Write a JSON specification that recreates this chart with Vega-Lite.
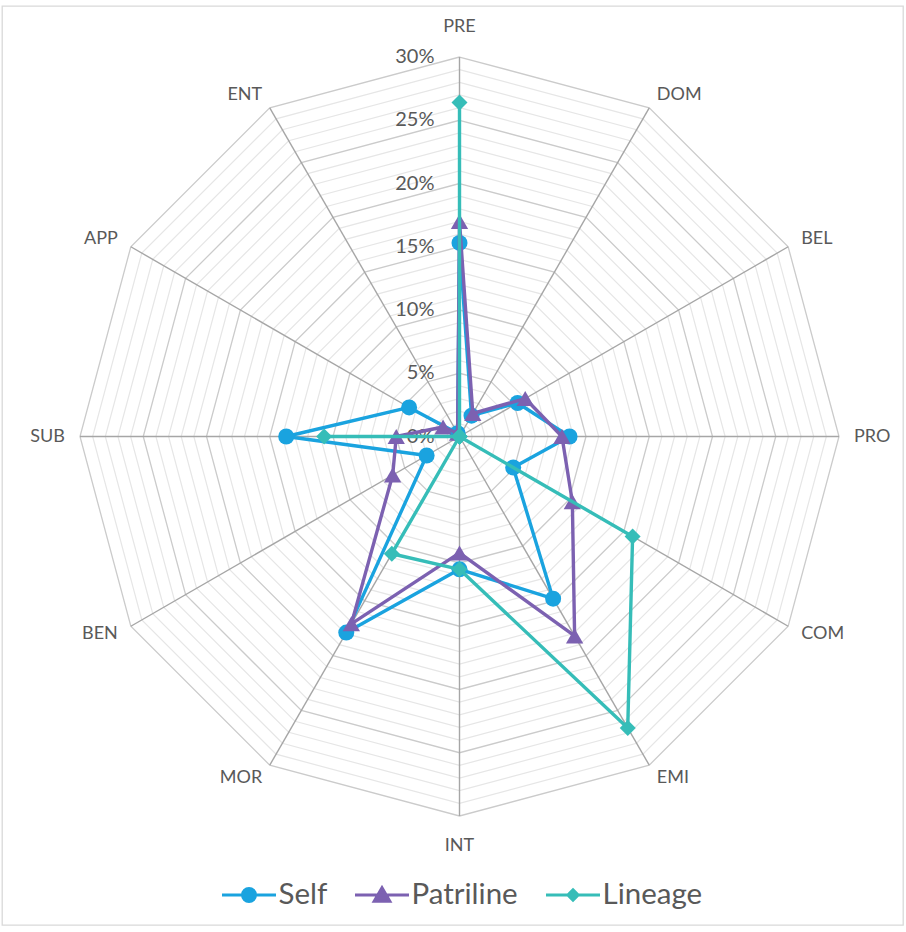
{
  "$schema": "https://vega.github.io/schema/vega-lite/v6.json",
  "width": 901,
  "height": 919,
  "autosize": {"type": "none"},
  "padding": {"left": 2, "top": 6, "right": 3, "bottom": 7},
  "background": "white",
  "config": {
    "view": {"stroke": "#D9D9D9", "strokeWidth": 1.3},
    "legend": {
      "orient": "none",
      "direction": "horizontal",
      "legendX": 218.5,
      "legendY": 860.5,
      "padding": 0,
      "labelFont": "Lato",
      "labelFontSize": 29.5,
      "labelColor": "#595959",
      "labelOffset": 1,
      "symbolSize": 2916,
      "symbolStrokeWidth": 3,
      "symbolOpacity": 1,
      "columnPadding": 21
    }
  },
  "datasets": {
    "vals": [
      {"series": "Self", "axis": "PRE", "idx": 0, "value": 15.3},
      {"series": "Self", "axis": "DOM", "idx": 1, "value": 1.9},
      {"series": "Self", "axis": "BEL", "idx": 2, "value": 5.3},
      {"series": "Self", "axis": "PRO", "idx": 3, "value": 8.7},
      {"series": "Self", "axis": "COM", "idx": 4, "value": 4.9},
      {"series": "Self", "axis": "EMI", "idx": 5, "value": 14.8},
      {"series": "Self", "axis": "INT", "idx": 6, "value": 10.5},
      {"series": "Self", "axis": "MOR", "idx": 7, "value": 17.9},
      {"series": "Self", "axis": "BEN", "idx": 8, "value": 3.0},
      {"series": "Self", "axis": "SUB", "idx": 9, "value": 13.7},
      {"series": "Self", "axis": "APP", "idx": 10, "value": 4.6},
      {"series": "Self", "axis": "ENT", "idx": 11, "value": 0.3},
      {"series": "Patriline", "axis": "PRE", "idx": 0, "value": 17.0},
      {"series": "Patriline", "axis": "DOM", "idx": 1, "value": 2.1},
      {"series": "Patriline", "axis": "BEL", "idx": 2, "value": 6.0},
      {"series": "Patriline", "axis": "PRO", "idx": 3, "value": 8.1},
      {"series": "Patriline", "axis": "COM", "idx": 4, "value": 10.3},
      {"series": "Patriline", "axis": "EMI", "idx": 5, "value": 18.2},
      {"series": "Patriline", "axis": "INT", "idx": 6, "value": 9.2},
      {"series": "Patriline", "axis": "MOR", "idx": 7, "value": 17.1},
      {"series": "Patriline", "axis": "BEN", "idx": 8, "value": 6.1},
      {"series": "Patriline", "axis": "SUB", "idx": 9, "value": 5.0},
      {"series": "Patriline", "axis": "APP", "idx": 10, "value": 1.5},
      {"series": "Patriline", "axis": "ENT", "idx": 11, "value": 0.3},
      {"series": "Lineage", "axis": "PRE", "idx": 0, "value": 26.4},
      {"series": "Lineage", "axis": "DOM", "idx": 1, "value": 0},
      {"series": "Lineage", "axis": "BEL", "idx": 2, "value": 0},
      {"series": "Lineage", "axis": "PRO", "idx": 3, "value": 0},
      {"series": "Lineage", "axis": "COM", "idx": 4, "value": 15.8},
      {"series": "Lineage", "axis": "EMI", "idx": 5, "value": 26.6},
      {"series": "Lineage", "axis": "INT", "idx": 6, "value": 10.5},
      {"series": "Lineage", "axis": "MOR", "idx": 7, "value": 10.7},
      {"series": "Lineage", "axis": "BEN", "idx": 8, "value": 0},
      {"series": "Lineage", "axis": "SUB", "idx": 9, "value": 10.7},
      {"series": "Lineage", "axis": "APP", "idx": 10, "value": 0},
      {"series": "Lineage", "axis": "ENT", "idx": 11, "value": 0}
    ],
    "axes": [
      {"axis": "PRE", "idx": 0}, {"axis": "DOM", "idx": 1}, {"axis": "BEL", "idx": 2},
      {"axis": "PRO", "idx": 3}, {"axis": "COM", "idx": 4}, {"axis": "EMI", "idx": 5},
      {"axis": "INT", "idx": 6}, {"axis": "MOR", "idx": 7}, {"axis": "BEN", "idx": 8},
      {"axis": "SUB", "idx": 9}, {"axis": "APP", "idx": 10}, {"axis": "ENT", "idx": 11}
    ],
    "levels": [
      {"level": 1, "k": [0,1,2,3,4,5,6,7,8,9,10,11]},
      {"level": 2, "k": [0,1,2,3,4,5,6,7,8,9,10,11]},
      {"level": 3, "k": [0,1,2,3,4,5,6,7,8,9,10,11]},
      {"level": 4, "k": [0,1,2,3,4,5,6,7,8,9,10,11]},
      {"level": 5, "k": [0,1,2,3,4,5,6,7,8,9,10,11]},
      {"level": 6, "k": [0,1,2,3,4,5,6,7,8,9,10,11]},
      {"level": 7, "k": [0,1,2,3,4,5,6,7,8,9,10,11]},
      {"level": 8, "k": [0,1,2,3,4,5,6,7,8,9,10,11]},
      {"level": 9, "k": [0,1,2,3,4,5,6,7,8,9,10,11]},
      {"level": 10, "k": [0,1,2,3,4,5,6,7,8,9,10,11]},
      {"level": 11, "k": [0,1,2,3,4,5,6,7,8,9,10,11]},
      {"level": 12, "k": [0,1,2,3,4,5,6,7,8,9,10,11]},
      {"level": 13, "k": [0,1,2,3,4,5,6,7,8,9,10,11]},
      {"level": 14, "k": [0,1,2,3,4,5,6,7,8,9,10,11]},
      {"level": 15, "k": [0,1,2,3,4,5,6,7,8,9,10,11]},
      {"level": 16, "k": [0,1,2,3,4,5,6,7,8,9,10,11]},
      {"level": 17, "k": [0,1,2,3,4,5,6,7,8,9,10,11]},
      {"level": 18, "k": [0,1,2,3,4,5,6,7,8,9,10,11]},
      {"level": 19, "k": [0,1,2,3,4,5,6,7,8,9,10,11]},
      {"level": 20, "k": [0,1,2,3,4,5,6,7,8,9,10,11]},
      {"level": 21, "k": [0,1,2,3,4,5,6,7,8,9,10,11]},
      {"level": 22, "k": [0,1,2,3,4,5,6,7,8,9,10,11]},
      {"level": 23, "k": [0,1,2,3,4,5,6,7,8,9,10,11]},
      {"level": 24, "k": [0,1,2,3,4,5,6,7,8,9,10,11]},
      {"level": 25, "k": [0,1,2,3,4,5,6,7,8,9,10,11]},
      {"level": 26, "k": [0,1,2,3,4,5,6,7,8,9,10,11]},
      {"level": 27, "k": [0,1,2,3,4,5,6,7,8,9,10,11]},
      {"level": 28, "k": [0,1,2,3,4,5,6,7,8,9,10,11]},
      {"level": 29, "k": [0,1,2,3,4,5,6,7,8,9,10,11]},
      {"level": 30, "k": [0,1,2,3,4,5,6,7,8,9,10,11]}
    ],
    "ticks": [
      {"v": 0, "label": "0%"}, {"v": 5, "label": "5%"}, {"v": 10, "label": "10%"},
      {"v": 15, "label": "15%"}, {"v": 20, "label": "20%"}, {"v": 25, "label": "25%"},
      {"v": 30, "label": "30%"}
    ]
  },
  "encoding": {
    "x": {"field": "x", "type": "quantitative", "axis": null,
          "scale": {"domain": [-36.166, 35.059], "nice": false, "zero": false}},
    "y": {"field": "y", "type": "quantitative", "axis": null,
          "scale": {"domain": [-38.617, 34.032], "nice": false, "zero": false}}
  },
  "layer": [
    {
      "data": {"name": "levels"},
      "transform": [
        {"flatten": ["k"]},
        {"filter": "datum.level % 5 != 0"},
        {"calculate": "datum.k * PI / 6", "as": "a"},
        {"calculate": "datum.level * sin(datum.a)", "as": "x"},
        {"calculate": "datum.level * cos(datum.a)", "as": "y"}
      ],
      "mark": {"type": "line", "interpolate": "linear-closed", "stroke": "#E6E6E6", "strokeWidth": 1.2},
      "encoding": {"detail": {"field": "level", "type": "nominal"}, "order": {"field": "k", "type": "quantitative"}}
    },
    {
      "data": {"name": "levels"},
      "transform": [
        {"flatten": ["k"]},
        {"filter": "datum.level % 5 == 0"},
        {"calculate": "datum.k * PI / 6", "as": "a"},
        {"calculate": "datum.level * sin(datum.a)", "as": "x"},
        {"calculate": "datum.level * cos(datum.a)", "as": "y"}
      ],
      "mark": {"type": "line", "interpolate": "linear-closed", "stroke": "#CBCBCB", "strokeWidth": 1.3},
      "encoding": {"detail": {"field": "level", "type": "nominal"}, "order": {"field": "k", "type": "quantitative"}}
    },
    {
      "data": {"name": "axes"},
      "transform": [
        {"calculate": "datum.idx * PI / 6", "as": "a"},
        {"calculate": "0", "as": "x"},
        {"calculate": "0", "as": "y"},
        {"calculate": "30 * sin(datum.a)", "as": "x2"},
        {"calculate": "30 * cos(datum.a)", "as": "y2"}
      ],
      "mark": {"type": "rule", "stroke": "#A6A6A6", "strokeWidth": 1.4},
      "encoding": {"x2": {"field": "x2"}, "y2": {"field": "y2"}}
    },
    {
      "data": {"name": "ticks"},
      "transform": [
        {"calculate": "0", "as": "x"},
        {"calculate": "datum.v", "as": "y"}
      ],
      "mark": {"type": "text", "align": "right", "baseline": "middle", "dx": -25, "font": "Lato", "fontSize": 20, "color": "#595959"},
      "encoding": {"text": {"field": "label"}}
    },
    {
      "data": {"name": "axes"},
      "transform": [
        {"calculate": "datum.idx * PI / 6", "as": "a"},
        {"calculate": "abs(sin(datum.a)) < 0.1 ? 32.37 : 31.19", "as": "r"},
        {"calculate": "datum.r * sin(datum.a)", "as": "x"},
        {"calculate": "datum.r * cos(datum.a)", "as": "y"},
        {"filter": "sin(datum.a) > 0.1"}
      ],
      "mark": {"type": "text", "align": "left", "baseline": "middle", "font": "Lato", "fontSize": 18, "color": "#595959"},
      "encoding": {"text": {"field": "axis"}}
    },
    {
      "data": {"name": "axes"},
      "transform": [
        {"calculate": "datum.idx * PI / 6", "as": "a"},
        {"calculate": "abs(sin(datum.a)) < 0.1 ? 32.37 : 31.19", "as": "r"},
        {"calculate": "datum.r * sin(datum.a)", "as": "x"},
        {"calculate": "datum.r * cos(datum.a)", "as": "y"},
        {"filter": "sin(datum.a) < -0.1"}
      ],
      "mark": {"type": "text", "align": "right", "baseline": "middle", "font": "Lato", "fontSize": 18, "color": "#595959"},
      "encoding": {"text": {"field": "axis"}}
    },
    {
      "data": {"name": "axes"},
      "transform": [
        {"calculate": "datum.idx * PI / 6", "as": "a"},
        {"calculate": "abs(sin(datum.a)) < 0.1 ? 32.37 : 31.19", "as": "r"},
        {"calculate": "datum.r * sin(datum.a)", "as": "x"},
        {"calculate": "datum.r * cos(datum.a)", "as": "y"},
        {"filter": "abs(sin(datum.a)) <= 0.1"}
      ],
      "mark": {"type": "text", "align": "center", "baseline": "middle", "font": "Lato", "fontSize": 18, "color": "#595959"},
      "encoding": {"text": {"field": "axis"}}
    },
    {
      "data": {"name": "vals"},
      "transform": [
        {"calculate": "datum.idx * PI / 6", "as": "a"},
        {"calculate": "datum.value * sin(datum.a)", "as": "x"},
        {"calculate": "datum.value * cos(datum.a)", "as": "y"}
      ],
      "layer": [
        {
          "transform": [{"filter": "datum.series == 'Self'"}],
          "mark": {"type": "line", "interpolate": "linear-closed", "stroke": "#1AA3DF", "strokeWidth": 3.4, "strokeJoin": "round"},
          "encoding": {"order": {"field": "idx", "type": "quantitative"}}
        },
        {
          "transform": [{"filter": "datum.series == 'Self'"}],
          "mark": {"type": "point", "shape": "circle", "filled": true, "opacity": 1, "size": 256, "color": "#1AA3DF"}
        },
        {
          "transform": [{"filter": "datum.series == 'Patriline'"}],
          "mark": {"type": "line", "interpolate": "linear-closed", "stroke": "#7C61B1", "strokeWidth": 3.4, "strokeJoin": "round"},
          "encoding": {"order": {"field": "idx", "type": "quantitative"}}
        },
        {
          "transform": [{"filter": "datum.series == 'Patriline'"}],
          "mark": {"type": "point", "shape": "triangle-up", "filled": true, "opacity": 1, "size": 300, "color": "#7C61B1"}
        },
        {
          "transform": [{"filter": "datum.series == 'Lineage'"}],
          "mark": {"type": "line", "interpolate": "linear-closed", "stroke": "#36BDB8", "strokeWidth": 3.4, "strokeJoin": "round"},
          "encoding": {"order": {"field": "idx", "type": "quantitative"}}
        },
        {
          "transform": [{"filter": "datum.series == 'Lineage'"}],
          "mark": {"type": "point", "shape": "diamond", "filled": true, "opacity": 1, "size": 256, "color": "#36BDB8"}
        },
        {
          "transform": [{"filter": "datum.series == 'none'"}],
          "mark": {"type": "point", "filled": true, "opacity": 1, "size": 2916, "strokeWidth": 3},
          "encoding": {
            "fill": {"field": "series", "type": "nominal", "title": null,
                     "scale": {"domain": ["Self", "Patriline", "Lineage"], "range": ["#1AA3DF", "#7C61B1", "#36BDB8"]}},
            "stroke": {"field": "series", "type": "nominal", "title": null,
                       "scale": {"domain": ["Self", "Patriline", "Lineage"], "range": ["#1AA3DF", "#7C61B1", "#36BDB8"]}},
            "shape": {"field": "series", "type": "nominal", "title": null,
                      "scale": {"domain": ["Self", "Patriline", "Lineage"],
                                "range": [
                                  "M-1,0H1M-0.24,0A0.24,0.24 0 1,0 0.24,0A0.24,0.24 0 1,0 -0.24,0Z",
                                  "M-1,0H1M0,-0.27L0.29,0.23H-0.29Z",
                                  "M-1,0H1M0,-0.19L0.19,0L0,0.19L-0.19,0Z"
                                ]}}
          }
        }
      ]
    }
  ]
}
